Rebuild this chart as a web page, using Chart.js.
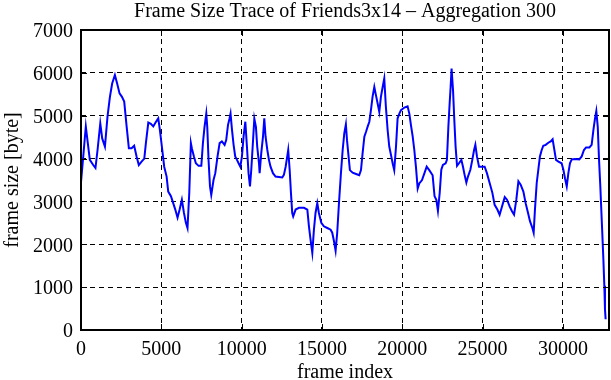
<!DOCTYPE html>
<html>
<head>
<meta charset="utf-8">
<script src="https://cdn.jsdelivr.net/npm/chart.js@4.4.1/dist/chart.umd.min.js"></script>
<style>
  html, body { margin: 0; padding: 0; background: #fff; }
  canvas { display: block; }
</style>
</head>
<body>
<canvas id="trace" width="611" height="380"></canvas>
<script>
// frame index (x) and aggregated frame size in bytes (y)
const frames = [
    0, 140, 300, 450, 550, 760, 900, 1030, 1200, 1320, 1490, 1650, 1800, 1940, 2110, 2250, 2400, 2550, 2690, 2840,
    2980, 3150, 3310, 3460, 3600, 3770, 3940, 4040, 4190, 4350, 4500, 4640, 4810, 4910, 5060, 5180, 5330, 5430, 5600, 5740,
    5870, 6010, 6140, 6280, 6410, 6530, 6630, 6740, 6840, 6900, 7030, 7150, 7320, 7490, 7590, 7690, 7800, 7860, 7940, 8030,
    8110, 8250, 8360, 8500, 8630, 8770, 8940, 9040, 9150, 9250, 9310, 9400, 9500, 9600, 9710, 9810, 9920, 10020, 10120, 10230,
    10330, 10430, 10520, 10600, 10700, 10790, 10890, 10970, 11080, 11120, 11220, 11330, 11410, 11490, 11600, 11700, 11800, 11950, 12110, 12320,
    12530, 12630, 12740, 12840, 12900, 12990, 13070, 13150, 13210, 13360, 13570, 13880, 14090, 14190, 14290, 14400, 14500, 14600, 14710, 14810,
    14960, 15120, 15330, 15540, 15640, 15750, 15850, 15950, 16060, 16180, 16290, 16390, 16490, 16560, 16660, 16740, 16910, 17120, 17320, 17430,
    17530, 17640, 17740, 17840, 17950, 18050, 18150, 18260, 18360, 18470, 18570, 18670, 18780, 18880, 18980, 19090, 19190, 19300, 19400, 19500,
    19610, 19710, 19820, 19920, 20130, 20330, 20440, 20540, 20650, 20750, 20850, 20960, 21060, 21230, 21370, 21520, 21680, 21890, 22010, 22120,
    22220, 22330, 22430, 22530, 22700, 22780, 22870, 22950, 23010, 23070, 23160, 23240, 23320, 23410, 23530, 23680, 23780, 23880, 23990, 24090,
    24240, 24360, 24470, 24550, 24650, 24780, 24920, 25130, 25270, 25440, 25610, 25750, 25920, 26060, 26210, 26380, 26520, 26690, 26830, 26960,
    27100, 27230, 27370, 27540, 27680, 27830, 27950, 28100, 28180, 28260, 28370, 28470, 28570, 28680, 28780, 28930, 29090, 29240, 29360, 29470,
    29570, 29720, 29920, 30030, 30130, 30240, 30340, 30440, 30550, 30750, 31020, 31170, 31310, 31440, 31650, 31790, 31900, 32000, 32080, 32170,
    32250, 32330, 32390, 32460, 32520, 32580, 32620, 32660
];
const sizes = [
    3450, 4050, 4750, 4280, 3970, 3850, 3780, 4200, 4820, 4470, 4280, 4980, 5440, 5750, 5950, 5750, 5520, 5440, 5330, 4750,
    4240, 4240, 4300, 4050, 3850, 3930, 4000, 4360, 4840, 4810, 4750, 4840, 4940, 4670, 4200, 3810, 3580, 3230, 3120, 2960,
    2810, 2620, 2810, 3040, 2730, 2500, 2380, 3200, 4360, 4240, 4050, 3890, 3830, 3830, 4360, 4740, 5050, 4740, 3970, 3350,
    3150, 3500, 3660, 4050, 4360, 4400, 4320, 4430, 4780, 4940, 5050, 4670, 4320, 4050, 3970, 3890, 3810, 4050, 4510, 4860,
    4280, 3660, 3350, 3740, 4360, 4930, 4740, 4280, 3890, 3660, 4120, 4510, 4940, 4510, 4200, 3970, 3810, 3660, 3580, 3570,
    3560, 3620, 3810, 4050, 4200, 3740, 3200, 2730, 2650, 2810, 2850, 2850, 2810, 2420, 2110, 1800, 2340, 2730, 2960, 2730,
    2500, 2420, 2380, 2340, 2270, 2070, 1850, 2270, 2960, 3650, 4200, 4590, 4800, 4430, 4040, 3730, 3670, 3640, 3610, 3730,
    4120, 4510, 4620, 4740, 4860, 5130, 5440, 5670, 5480, 5280, 5090, 5440, 5670, 5870, 5210, 4660, 4280, 4080, 3890, 3730,
    4280, 4940, 5050, 5130, 5190, 5220, 5050, 4780, 4510, 4200, 3810, 3300, 3420, 3500, 3650, 3810, 3730, 3610, 3120, 3040,
    2780, 3200, 3740, 3850, 3890, 3970, 4740, 5290, 5670, 6100, 5600, 4900, 4280, 3830, 3890, 3970, 3810, 3620, 3440, 3580,
    3740, 3970, 4200, 4320, 4050, 3810, 3810, 3810, 3660, 3430, 3200, 2920, 2810, 2690, 2880, 3100, 3040, 2880, 2770, 2690,
    3040, 3470, 3390, 3230, 2960, 2730, 2540, 2380, 2270, 2810, 3430, 3740, 4050, 4200, 4300, 4320, 4370, 4400, 4450, 4200,
    3970, 3930, 3890, 3740, 3540, 3350, 3660, 3890, 3980, 3990, 3980, 4050, 4200, 4260, 4260, 4320, 4670, 4940, 5110, 4740,
    3970, 3350, 2810, 2190, 1650, 1030, 480, 250
];

// axis ticks
const xTickValues = [0, 5000, 10000, 15000, 20000, 25000, 30000];
const yTickValues = [0, 1000, 2000, 3000, 4000, 5000, 6000, 7000];

const serif = 'Liberation Serif';

// gnuplot style frame with inward ticks on every side
const framePlugin = {
    id: 'frame',
    afterDatasetsDraw(chart) {
        const { ctx, chartArea: a, scales: { x, y } } = chart;
        ctx.save();
        ctx.strokeStyle = '#000';
        ctx.lineWidth = 1;
        ctx.beginPath();
        x.ticks.forEach(t => {
            const px = Math.round(x.getPixelForValue(t.value)) + 0.5;
            ctx.moveTo(px, a.bottom); ctx.lineTo(px, a.bottom - 6);
            ctx.moveTo(px, a.top); ctx.lineTo(px, a.top + 6);
        });
        y.ticks.forEach(t => {
            const py = Math.round(y.getPixelForValue(t.value)) + 0.5;
            ctx.moveTo(a.left, py); ctx.lineTo(a.left + 6, py);
            ctx.moveTo(a.right, py); ctx.lineTo(a.right - 6, py);
        });
        ctx.stroke();
        ctx.lineWidth = 2;
        ctx.strokeRect(a.left, a.top, a.right - a.left, a.bottom - a.top);
        ctx.restore();
    }
};

const ctx = document.getElementById('trace').getContext('2d');
const traceChart = new Chart(ctx, {
    type: 'line',
    data: {
        datasets: [{
            label: 'Friends3x14',
            data: frames.map((f, i) => ({ x: f, y: sizes[i] })),
            borderColor: 'rgb(0, 0, 255)',
            borderWidth: 2,
            pointRadius: 0,
            fill: false,
            tension: 0
        }]
    },
    options: {
        responsive: false,
        animation: false,
        layout: { padding: { left: 0, right: 2, top: 0, bottom: 0 } },
        plugins: {
            legend: { display: false },
            tooltip: { enabled: false },
            title: {
                display: true,
                fullSize: false,
                text: 'Frame Size Trace of Friends3x14 \u2013 Aggregation 300',
                color: '#000',
                font: { family: serif, size: 20, weight: 'normal', lineHeight: 1.2 },
                padding: { top: 0, bottom: 6 }
            }
        },
        scales: {
            x: {
                type: 'linear',
                min: 0,
                max: 32870,
                afterBuildTicks: s => { s.ticks = xTickValues.map(v => ({ value: v })); },
                afterFit: s => { s.height = 50; },
                grid: { color: '#000', lineWidth: 1, drawTicks: false },
                border: { display: false, dash: [5, 4] },
                ticks: {
                    autoSkip: false,
                    maxRotation: 0,
                    padding: 8,
                    color: '#000',
                    font: { family: serif, size: 20 },
                    callback: v => String(v)
                },
                title: {
                    display: true,
                    text: 'frame index',
                    color: '#000',
                    font: { family: serif, size: 20, lineHeight: 1.2 },
                    padding: { top: 0, bottom: -5 }
                }
            },
            y: {
                min: 0,
                max: 7000,
                afterBuildTicks: s => { s.ticks = yTickValues.map(v => ({ value: v })); },
                afterFit: s => { s.width = 81; },
                grid: { color: '#000', lineWidth: 1, drawTicks: false },
                border: { display: false, dash: [5, 4] },
                ticks: {
                    autoSkip: false,
                    padding: 8,
                    labelOffset: 2,
                    color: '#000',
                    font: { family: serif, size: 20 },
                    callback: v => String(v)
                },
                title: {
                    display: true,
                    text: 'frame size [byte]',
                    color: '#000',
                    font: { family: serif, size: 20, lineHeight: 1.2 },
                    padding: { top: 1, bottom: 0 }
                }
            }
        }
    },
    plugins: [framePlugin]
});
</script>
</body>
</html>
